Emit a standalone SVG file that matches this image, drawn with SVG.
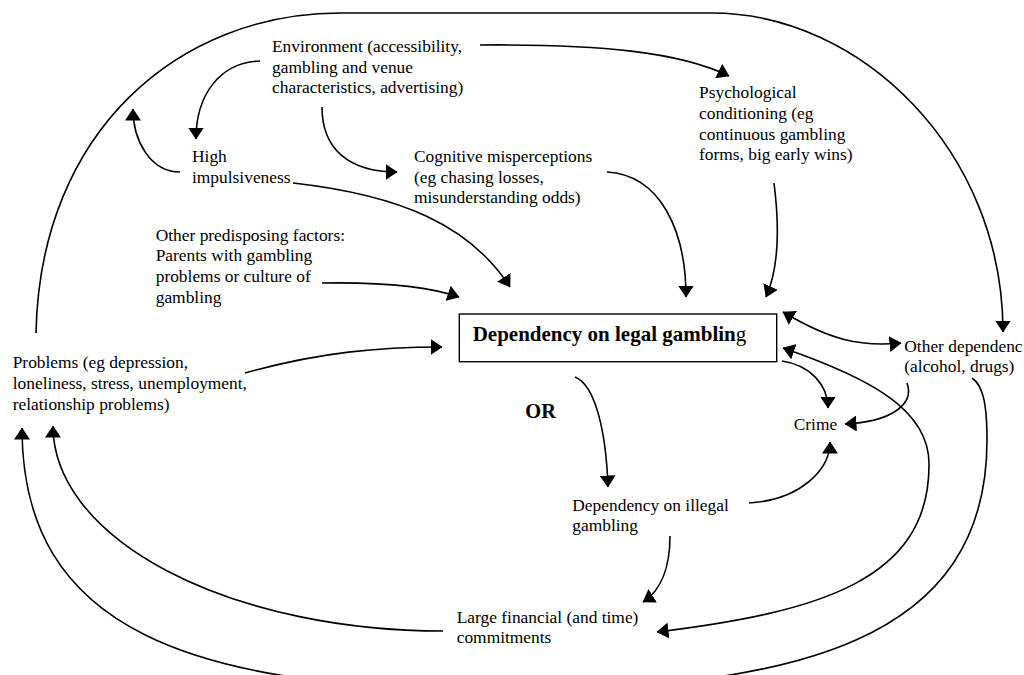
<svg xmlns="http://www.w3.org/2000/svg" width="1024" height="675" viewBox="0 0 1024 675">
<style>
text{font-family:"Liberation Serif","Times New Roman",serif;font-size:17.4px;fill:#000}
.b{font-weight:bold;font-size:21px}
.c{fill:none;stroke:#000;stroke-width:1.6}
.e{marker-end:url(#ah)}
.s{marker-start:url(#ah)}
</style>
<defs>
<marker id="ah" viewBox="0 0 12 16" refX="11.5" refY="8" markerWidth="12" markerHeight="16" markerUnits="userSpaceOnUse" orient="auto-start-reverse">
<path d="M0,0 L12,8 L0,16 z" fill="#000"/>
</marker>
</defs>
<rect width="1024" height="675" fill="#fff"/>
<g id="connectors">
<path class="c e" d="M36,333 C40,130 180,13 340,13 L712,13 C860,13 1003,150 1003,332"/>
<path class="c e" d="M480,45 C600,44 680,52 729,76"/>
<path class="c e" d="M260,61 C220,62 196,95 196,139"/>
<path class="c e" d="M180,172 C150,172 133,140 133,109"/>
<path class="c e" d="M322,107 C322,150 350,172 397,172"/>
<path class="c e" d="M293,183 C400,195 470,225 510,287"/>
<path class="c e" d="M322,283 C380,282 430,287 459,297"/>
<path class="c e" d="M607,172 C660,175 686,230 686,297"/>
<path class="c e" d="M774,183 C780,230 778,270 766,297"/>
<path class="c e" d="M245,373 C320,352 380,347 442,347"/>
<path class="c s e" d="M783,312 C830,340 860,347 901,343"/>
<path class="c e" d="M782,361 C810,365 828,385 828,408"/>
<path class="c e" d="M907,383 C915,405 890,422 845,424"/>
<path class="c e" d="M749,503 C800,500 830,470 830,442"/>
<path class="c e" d="M575,377 C595,385 606,430 608,487"/>
<path class="c e" d="M670,536 C670,565 662,590 643,602"/>
<path class="c s e" d="M783,348 C870,378 930,410 929,465 C929,580 820,612 657,632"/>
<path class="c e" d="M972,378 C982,385 987,400 987,440 C987,640 800,690 500,690 C190,690 22,630 22,428"/>
<path class="c e" d="M443,631 A390,205 0 0 1 53,426"/>
</g>
<g id="environment">
<text x="272" y="52">Environment (accessibility,</text>
<text x="272" y="72.7">gambling and venue</text>
<text x="272" y="93.4">characteristics, advertising)</text>
</g>
<g id="psychological">
<text x="699" y="98.3">Psychological</text>
<text x="699" y="119">conditioning (eg</text>
<text x="699" y="139.7">continuous gambling</text>
<text x="699" y="160.4">forms, big early wins)</text>
</g>
<g id="impulsiveness">
<text x="192" y="162">High</text>
<text x="192" y="182.7">impulsiveness</text>
</g>
<g id="cognitive">
<text x="414" y="162">Cognitive misperceptions</text>
<text x="414" y="182.7">(eg chasing losses,</text>
<text x="414" y="203.4">misunderstanding odds)</text>
</g>
<g id="predisposing">
<text x="155.7" y="240.7">Other predisposing factors:</text>
<text x="155.7" y="261.4">Parents with gambling</text>
<text x="155.7" y="282.1">problems or culture of</text>
<text x="155.7" y="302.8">gambling</text>
</g>
<g id="legal">
<rect x="459.3" y="314" width="317.4" height="47.7" fill="none" stroke="#000" stroke-width="1.4"/>
<text class="b" x="472.7" y="340.7">Dependency on legal gamblin<tspan font-weight="normal">g</tspan></text>
</g>
<g id="problems">
<text x="12.7" y="368.3">Problems (eg depression,</text>
<text x="12.7" y="389">loneliness, stress, unemployment,</text>
<text x="12.7" y="409.7">relationship problems)</text>
</g>
<g id="other-dependencies">
<text x="904.3" y="352">Other dependenc</text>
<text x="904.3" y="372">(alcohol, drugs)</text>
</g>
<g id="or">
<text class="b" x="525.3" y="418.3" style="font-size:20.4px">OR</text>
</g>
<g id="crime">
<text x="793.7" y="430">Crime</text>
</g>
<g id="illegal">
<text x="572.3" y="510.7">Dependency on illegal</text>
<text x="572.3" y="531.4">gambling</text>
</g>
<g id="financial">
<text x="456.7" y="623">Large financial (and time)</text>
<text x="456.7" y="643">commitments</text>
</g>
</svg>
